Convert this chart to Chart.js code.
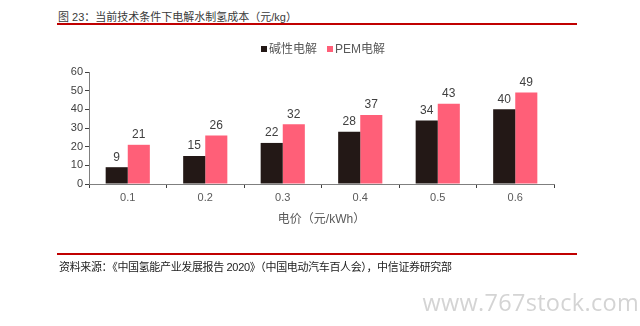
<!DOCTYPE html>
<html>
<head>
<meta charset="utf-8">
<script src="https://cdn.jsdelivr.net/npm/chart.js@4/dist/chart.umd.min.js"></script>
<style>
  html, body { margin: 0; padding: 0; background: #fff; }
  body { width: 640px; height: 326px; position: relative; overflow: hidden;
         font-family: "Liberation Sans", "Noto Sans CJK SC", sans-serif; }
  #wrap { position: absolute; left: 0; top: 0; width: 640px; height: 326px; }
  .title { position: absolute; left: 58px; top: 8px; font-size: 11px; color: #3a3a3a; white-space: nowrap; }
  .rule { position: absolute; left: 57px; width: 520px; height: 2px; background: #c00000; }
  .source { position: absolute; left: 59px; top: 258px; font-size: 11px; color: #222; white-space: nowrap; letter-spacing: -0.35px; }
  .legend { position: absolute; top: 39px; left: 261px; font-size: 12px; color: #595959; white-space: nowrap; }
  .legend span.box { display: inline-block; width: 6px; height: 6px; margin-right: 2px; vertical-align: 1px; }
  .legend span.item { margin-right: 10px; }
  .wm { position: absolute; right: 1px; top: 286px; font-family: "Open Sans", sans-serif; font-size: 23.5px;
        color: #d4d4d4; white-space: nowrap; letter-spacing: 0.3px; }
</style>
</head>
<body>
<div class="title">图 23：当前技术条件下电解水制氢成本（元/kg）</div>
<div class="rule" style="top:23px"></div>
<div id="wrap"><canvas id="c" width="640" height="326"></canvas></div>
<div class="legend" id="legend"></div>
<div class="rule" style="top:253px"></div>
<div class="source">资料来源：《中国氢能产业发展报告 2020》（中国电动汽车百人会），中信证券研究部</div>
<div class="wm">www.767stock.com</div>
<script>
// Electricity price categories (元/kWh)
const categories = ['0.1', '0.2', '0.3', '0.4', '0.5', '0.6'];
// Hydrogen cost (元/kg) per electrolysis route
const alkalineCost = [9, 15, 22, 28, 34, 40];
const pemCost = [21, 26, 32, 37, 43, 49];
const seriesNames = ['碱性电解', 'PEM电解'];
const yTicks = [0, 10, 20, 30, 40, 50, 60];

const colors = ['#231816', '#ff5f78'];
const fontFamily = '"Liberation Sans", "Noto Sans CJK SC", sans-serif';

// Legend built from the series names
const legendEl = document.getElementById('legend');
seriesNames.forEach((name, i) => {
  const item = document.createElement('span');
  item.className = 'item';
  item.innerHTML = '<span class="box" style="background:' + colors[i] + '"></span>' + name;
  legendEl.appendChild(item);
});

// Value labels above each bar
const valueLabels = {
  id: 'valueLabels',
  afterDatasetsDraw(chart) {
    const ctx = chart.ctx;
    ctx.save();
    ctx.font = '12px ' + fontFamily;
    ctx.fillStyle = '#404040';
    ctx.textAlign = 'center';
    ctx.textBaseline = 'bottom';
    chart.data.datasets.forEach((ds, di) => {
      chart.getDatasetMeta(di).data.forEach((bar, i) => {
        ctx.fillText(String(ds.data[i]), bar.x, bar.y - 4);
      });
    });
    ctx.restore();
  }
};

new Chart(document.getElementById('c'), {
  type: 'bar',
  data: {
    labels: categories,
    datasets: [
      { label: seriesNames[0], data: alkalineCost, backgroundColor: colors[0] },
      { label: seriesNames[1], data: pemCost, backgroundColor: colors[1] }
    ]
  },
  options: {
    responsive: false,
    animation: false,
    devicePixelRatio: 1,
    layout: { padding: { left: 59, right: 86, top: 72, bottom: 92 } },
    plugins: { legend: { display: false }, tooltip: { enabled: false } },
    datasets: { bar: { categoryPercentage: 0.57, barPercentage: 1.0 } },
    scales: {
      x: {
        afterFit: s => { s.height = 50; },
        grid: { drawOnChartArea: false, drawTicks: true, tickLength: 4, color: '#404040', offset: true },
        border: { color: '#7f7f7f', width: 1 },
        ticks: { color: '#595959', font: { size: 11, family: fontFamily }, padding: 3 },
        title: { display: true, text: '电价（元/kWh）', color: '#595959',
                 font: { size: 12, family: fontFamily }, padding: { top: 0, bottom: 7 } }
      },
      y: {
        min: 0, max: 60,
        afterFit: s => { s.width = 30; },
        afterBuildTicks: s => { s.ticks = yTicks.map(v => ({ value: v })); },
        grid: { drawOnChartArea: false, drawTicks: true, tickLength: 4, color: '#404040' },
        border: { color: '#7f7f7f', width: 1 },
        ticks: { color: '#404040', font: { size: 11, family: fontFamily }, padding: 2 }
      }
    }
  },
  plugins: [valueLabels]
});
</script>
</body>
</html>
